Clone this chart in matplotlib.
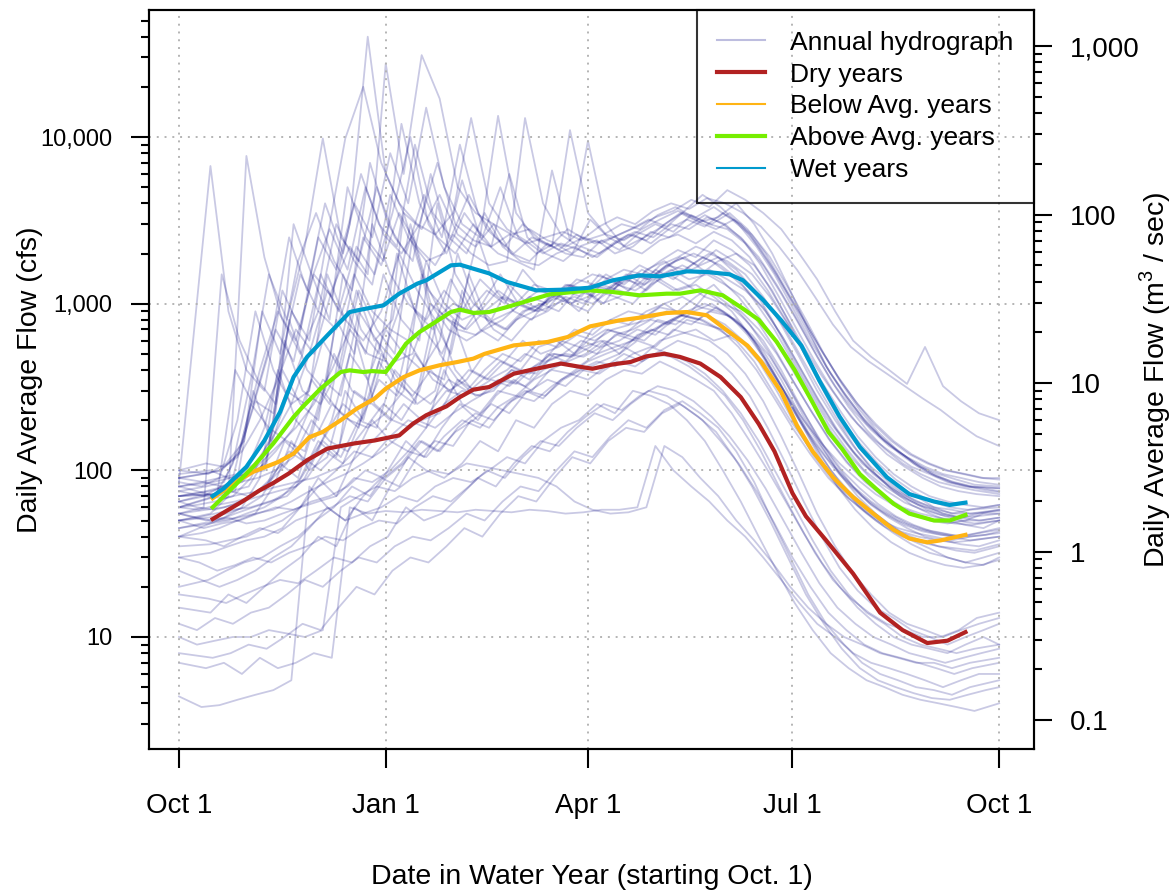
import numpy as np
import matplotlib
matplotlib.use("Agg")
import matplotlib.pyplot as plt
from matplotlib.lines import Line2D
from matplotlib.ticker import FixedLocator, FixedFormatter, NullFormatter

plt.rcParams['font.family'] = ['Liberation Sans', 'DejaVu Sans']
plt.rcParams['mathtext.fontset'] = 'custom'
plt.rcParams['mathtext.rm'] = 'Liberation Sans'

# ---- data (cfs), days counted from Oct 1 ----
tick_days = [0, 92, 182, 273, 365]
tick_names = ['Oct 1', 'Jan 1', 'Apr 1', 'Jul 1', 'Oct 1']

# annual hydrographs, sampled every 8 days (grid offset per trace)
wet_offsets = [4, 6, 0, 2, 4, 6, 2, 1, 3, 5, 7, 3]
wet_years = [
    [75, 80, 85, 150, 400, 900, 600, 1500, 1100, 3000, 40000, 6000, 3500, 2800, 4500, 2600, 2200, 3000, 2000, 1800, 2300, 2000, 1900, 2400, 2100, 2600, 3000, 2700, 3400, 3000, 2800, 2300, 1700, 1150, 750, 480, 320, 230, 175, 140, 120, 105, 95, 90, 85, 82],
    [85, 6700, 900, 400, 300, 1200, 700, 2500, 1600, 4000, 2500, 8000, 4000, 15000, 5000, 3000, 2500, 13400, 3500, 2500, 2200, 11000, 3500, 2600, 2400, 2800, 3200, 3600, 3300, 3800, 3200, 2600, 1800, 1200, 800, 520, 350, 250, 190, 150, 125, 110, 100, 95, 90, 90],
    [60, 65, 70, 110, 350, 1500, 800, 2200, 9800, 2500, 1800, 5000, 2500, 1800, 6000, 2500, 2000, 3500, 2200, 1800, 1700, 2000, 2200, 1900, 2200, 2600, 2400, 3000, 3500, 3100, 3300, 4000, 3000, 2000, 1200, 700, 420, 290, 210, 160, 130, 110, 95, 85, 80, 78],
    [90, 95, 100, 120, 260, 220, 900, 600, 2500, 9800, 20000, 7000, 4000, 3000, 2600, 3500, 13000, 4000, 2800, 2400, 2000, 2300, 2100, 1900, 2300, 2600, 2300, 2800, 3200, 2900, 3500, 3000, 2200, 1500, 950, 600, 380, 260, 190, 150, 125, 105, 95, 88, 82, 80],
    [100, 110, 105, 130, 200, 350, 700, 500, 1200, 2200, 1500, 27600, 6000, 31000, 17000, 5000, 3500, 3000, 2600, 2800, 2400, 2200, 2500, 2300, 2600, 2900, 3300, 3600, 4200, 3800, 4800, 4200, 3500, 2800, 2000, 1400, 900, 600, 480, 400, 330, 550, 320, 260, 220, 200],
    [70, 75, 80, 100, 180, 500, 1500, 900, 3000, 1800, 1300, 4500, 2500, 1800, 2000, 5500, 2500, 2000, 1800, 1600, 6300, 2400, 9500, 3000, 2200, 2000, 2400, 2600, 2300, 2700, 2400, 1900, 1300, 850, 550, 370, 260, 190, 150, 125, 105, 95, 85, 80, 78, 75],
    [80, 85, 90, 95, 110, 160, 250, 500, 1200, 800, 2500, 1700, 3500, 2200, 1700, 2600, 2000, 1700, 1800, 13000, 4000, 2600, 2200, 2400, 2000, 2200, 2700, 2500, 2900, 3400, 3000, 2500, 1900, 1300, 850, 540, 350, 240, 175, 135, 110, 95, 85, 80, 76, 72],
    [65, 70, 72, 400, 250, 600, 2500, 1200, 4000, 2000, 6000, 3000, 2200, 9000, 3500, 2500, 4500, 2800, 2200, 3000, 2400, 2100, 2600, 2300, 2500, 2800, 3200, 2900, 3600, 4500, 3800, 3000, 2200, 1500, 950, 600, 400, 280, 200, 155, 125, 105, 92, 85, 80, 78],
    [55, 60, 1500, 600, 350, 250, 3000, 1500, 800, 5000, 2500, 1800, 12000, 4000, 2500, 2000, 3000, 2200, 6000, 2500, 2000, 1800, 2200, 2000, 2400, 2700, 2500, 3000, 2800, 3300, 3000, 2400, 1700, 1100, 700, 450, 300, 210, 160, 125, 105, 90, 80, 75, 72, 70],
    [100, 95, 110, 150, 900, 500, 1800, 3500, 1800, 1200, 7000, 3000, 2000, 4500, 2500, 9000, 3500, 2500, 2000, 2500, 2200, 2800, 2400, 2600, 3000, 2800, 3400, 3800, 3300, 3000, 3500, 2800, 2000, 1300, 850, 550, 370, 260, 190, 150, 125, 110, 100, 95, 90, 88],
    [70, 72, 75, 80, 120, 250, 500, 1500, 900, 2200, 1500, 3500, 10000, 3000, 2000, 3500, 2500, 5000, 2500, 2000, 2300, 2000, 3200, 2500, 2200, 2500, 2900, 3500, 3100, 2800, 3200, 2600, 1900, 1250, 800, 500, 330, 230, 170, 135, 110, 95, 85, 80, 76, 74],
    [90, 95, 100, 130, 300, 700, 450, 1400, 2800, 1600, 5000, 2600, 2000, 3000, 7000, 3000, 2400, 2200, 2600, 2300, 2500, 2700, 2400, 2900, 3300, 3000, 3600, 4000, 3700, 4300, 4000, 3500, 2900, 2200, 1600, 1100, 750, 550, 450, 380, 320, 270, 230, 190, 160, 140],
]
above_offsets = [0, 6, 4, 6, 2, 0, 4, 6, 1, 3, 5, 7, 1]
above_years = [
    [60, 62, 65, 70, 90, 150, 300, 250, 600, 400, 1200, 700, 500, 2500, 1000, 800, 700, 900, 1100, 1000, 1200, 1100, 1300, 1500, 1400, 1200, 1600, 1800, 1500, 1700, 1900, 1600, 1200, 800, 500, 320, 210, 150, 110, 90, 75, 65, 60, 55, 58, 60],
    [50, 55, 70, 7700, 1900, 800, 500, 900, 700, 1500, 900, 700, 600, 1800, 1000, 800, 900, 1200, 1000, 900, 1100, 1300, 1200, 1500, 1300, 1600, 1400, 1200, 1300, 1100, 900, 650, 430, 290, 200, 145, 110, 88, 72, 62, 55, 50, 48, 50, 55, 55],
    [70, 75, 80, 85, 110, 140, 180, 250, 400, 700, 500, 450, 3500, 1500, 900, 700, 650, 800, 900, 1100, 1000, 1300, 1200, 1000, 1100, 1300, 1600, 1400, 1700, 2000, 1800, 1500, 1100, 750, 480, 300, 200, 140, 105, 85, 70, 62, 55, 52, 50, 52],
    [45, 48, 50, 55, 60, 70, 90, 150, 120, 300, 250, 200, 600, 400, 350, 1200, 700, 600, 800, 900, 1100, 1000, 900, 1200, 1400, 1300, 1700, 1900, 2200, 2000, 1600, 1300, 1000, 700, 450, 290, 190, 130, 95, 75, 62, 55, 50, 47, 45, 50],
    [85, 80, 90, 200, 900, 400, 250, 300, 1500, 800, 600, 900, 2000, 1200, 800, 1000, 900, 800, 700, 900, 1000, 1100, 900, 1200, 1100, 1000, 1300, 1500, 1300, 1100, 1000, 900, 700, 500, 330, 220, 150, 110, 85, 70, 60, 55, 52, 50, 48, 50],
    [65, 60, 58, 62, 70, 85, 110, 200, 350, 280, 900, 600, 450, 500, 1000, 700, 600, 700, 800, 1000, 900, 1000, 1100, 1000, 1200, 1400, 1200, 1500, 1700, 1500, 1800, 2000, 1700, 1200, 750, 450, 280, 180, 130, 100, 80, 70, 60, 58, 55, 58],
    [55, 58, 60, 65, 70, 75, 80, 120, 200, 500, 350, 700, 500, 400, 600, 2000, 1000, 700, 600, 800, 900, 1100, 1000, 1300, 1200, 1100, 1400, 1200, 1300, 1600, 1400, 1200, 950, 650, 420, 270, 180, 130, 100, 80, 68, 60, 55, 52, 55, 58],
    [95, 100, 90, 95, 100, 400, 250, 200, 800, 500, 3000, 1500, 1000, 800, 1200, 900, 1400, 1100, 1000, 1300, 1200, 1000, 1100, 1400, 1600, 1500, 1800, 2100, 1900, 2400, 2100, 1700, 1200, 800, 520, 340, 230, 160, 120, 95, 80, 70, 65, 62, 60, 62],
    [60, 65, 70, 75, 300, 150, 800, 400, 300, 1500, 700, 500, 2000, 900, 700, 1400, 900, 1200, 1000, 1600, 1200, 1100, 1400, 1300, 1200, 1500, 1400, 1700, 1600, 1900, 1700, 1400, 1000, 700, 450, 290, 190, 135, 100, 82, 70, 62, 58, 55, 55, 57],
    [75, 70, 80, 90, 100, 130, 180, 350, 250, 900, 500, 1500, 800, 600, 4000, 1500, 1000, 800, 1300, 1000, 900, 1200, 1100, 1500, 1300, 1200, 1400, 1600, 1400, 1500, 1300, 1100, 800, 550, 360, 240, 165, 120, 92, 75, 64, 58, 54, 52, 53, 55],
    [50, 52, 55, 60, 70, 110, 90, 200, 500, 300, 250, 600, 1200, 700, 500, 900, 2500, 1200, 900, 800, 1100, 1300, 1200, 1000, 1400, 1700, 1500, 1800, 2000, 1800, 1500, 1200, 900, 620, 400, 260, 175, 125, 95, 78, 66, 58, 53, 50, 50, 52],
    [80, 85, 90, 95, 110, 600, 300, 250, 400, 1200, 600, 800, 3000, 1200, 900, 700, 1000, 1500, 1000, 900, 1200, 1000, 1300, 1200, 1500, 1300, 1600, 1900, 1700, 2100, 1800, 1500, 1100, 750, 480, 310, 200, 145, 110, 88, 74, 65, 60, 58, 60, 62],
    [40, 45, 50, 55, 60, 65, 75, 90, 130, 110, 200, 450, 300, 250, 800, 500, 1500, 800, 700, 900, 1000, 900, 1200, 1100, 1300, 1500, 1400, 1700, 1900, 1600, 1400, 1100, 800, 540, 350, 230, 155, 112, 86, 70, 60, 54, 50, 48, 47, 50],
]
below_offsets = [0, 2, 4, 6, 0, 2, 4, 6, 1, 3, 5, 7]
below_years = [
    [50, 52, 55, 58, 60, 65, 70, 90, 150, 120, 200, 180, 400, 300, 250, 350, 300, 400, 500, 450, 600, 550, 700, 650, 800, 900, 850, 1000, 1100, 950, 900, 800, 600, 400, 260, 170, 120, 90, 70, 58, 50, 45, 42, 40, 38, 40],
    [40, 42, 45, 50, 55, 80, 150, 100, 120, 300, 200, 500, 350, 250, 300, 800, 400, 350, 400, 500, 450, 600, 550, 500, 650, 700, 800, 750, 900, 1000, 900, 750, 550, 360, 230, 150, 100, 75, 60, 50, 42, 38, 35, 33, 32, 35],
    [65, 70, 68, 72, 75, 80, 85, 90, 100, 110, 140, 180, 250, 200, 220, 350, 280, 300, 400, 380, 450, 500, 480, 550, 600, 700, 650, 800, 900, 1200, 1000, 800, 600, 400, 250, 160, 110, 80, 62, 52, 45, 40, 38, 36, 35, 38],
    [30, 32, 35, 38, 40, 45, 60, 90, 70, 120, 200, 150, 130, 180, 400, 250, 220, 300, 280, 350, 400, 380, 450, 500, 550, 480, 600, 650, 700, 600, 650, 550, 420, 280, 180, 120, 85, 62, 50, 42, 36, 32, 30, 28, 30, 32],
    [80, 75, 70, 90, 250, 180, 150, 130, 300, 220, 180, 600, 350, 280, 400, 300, 350, 500, 450, 400, 550, 600, 500, 700, 800, 750, 900, 1000, 850, 800, 700, 600, 450, 300, 200, 140, 100, 75, 60, 50, 45, 42, 40, 38, 40, 42],
    [45, 48, 50, 52, 55, 58, 65, 75, 85, 95, 110, 130, 160, 200, 180, 220, 260, 300, 350, 320, 400, 450, 420, 500, 550, 600, 700, 650, 800, 750, 700, 600, 450, 300, 190, 125, 90, 68, 55, 46, 40, 37, 35, 34, 33, 36],
    [55, 50, 52, 60, 90, 400, 200, 150, 250, 200, 180, 220, 300, 1500, 500, 350, 300, 320, 400, 350, 500, 450, 550, 600, 500, 650, 700, 800, 750, 900, 850, 700, 520, 350, 220, 150, 105, 80, 65, 55, 48, 44, 42, 40, 42, 44],
    [35, 36, 38, 40, 45, 50, 60, 80, 100, 130, 120, 160, 200, 180, 250, 300, 280, 350, 330, 420, 500, 480, 600, 700, 650, 800, 950, 900, 1100, 1300, 1000, 750, 520, 340, 210, 140, 95, 70, 55, 45, 38, 34, 30, 28, 27, 30],
    [60, 58, 62, 65, 70, 90, 130, 110, 160, 250, 200, 350, 280, 500, 350, 300, 400, 350, 450, 600, 500, 550, 650, 600, 700, 750, 800, 900, 850, 800, 700, 550, 400, 270, 180, 125, 90, 70, 57, 48, 43, 40, 38, 37, 38, 40],
    [90, 85, 80, 85, 90, 100, 120, 200, 150, 130, 180, 250, 200, 300, 800, 400, 300, 350, 320, 400, 450, 500, 600, 550, 650, 600, 700, 800, 900, 850, 750, 600, 450, 310, 210, 145, 105, 80, 64, 54, 47, 43, 41, 40, 42, 45],
    [20, 22, 25, 28, 30, 35, 40, 50, 60, 80, 70, 100, 150, 120, 180, 250, 200, 280, 350, 300, 400, 450, 500, 600, 550, 650, 800, 750, 900, 1000, 850, 650, 460, 300, 190, 120, 80, 58, 45, 37, 32, 29, 27, 26, 27, 29],
    [70, 72, 75, 70, 80, 150, 120, 100, 130, 600, 250, 200, 180, 220, 300, 280, 350, 450, 400, 380, 500, 480, 550, 700, 650, 600, 750, 850, 800, 950, 800, 650, 480, 320, 210, 140, 100, 78, 63, 53, 47, 43, 41, 40, 41, 43],
]
dry_offsets = [2, 4, 0, 6, 2, 4, 6, 0, 1, 3, 5, 7]
dry_years = [
    [4.4, 3.8, 3.9, 4.2, 4.5, 4.8, 5.5, 80, 60, 50, 55, 60, 70, 65, 80, 90, 85, 100, 120, 110, 150, 180, 200, 250, 220, 300, 280, 250, 200, 150, 100, 65, 40, 25, 16, 11, 8, 6.5, 5.5, 5, 4.5, 4.2, 4, 3.8, 3.6, 4],
    [7, 6.5, 7, 6, 7.5, 6.5, 7, 8, 7.5, 60, 55, 57, 56, 58, 57, 56, 58, 57, 56, 58, 57, 55, 56, 58, 58, 60, 140, 100, 80, 65, 50, 40, 30, 22, 16, 12, 10, 8, 7, 6.5, 6, 5.5, 5, 5.5, 6, 6],
    [10, 9, 9.5, 10, 10, 11, 10.5, 10, 11, 60, 70, 80, 75, 90, 100, 95, 110, 105, 100, 95, 90, 80, 65, 58, 55, 56, 60, 140, 120, 90, 70, 50, 38, 28, 20, 15, 12, 10, 9, 8, 7.5, 7, 7, 6.5, 7, 7.5],
    [15, 14, 18, 16, 20, 25, 30, 40, 35, 60, 50, 80, 120, 100, 90, 110, 150, 130, 200, 180, 250, 300, 280, 350, 400, 380, 450, 400, 350, 300, 220, 150, 100, 65, 42, 28, 20, 15, 12, 10, 9, 8.5, 8, 9, 10, 9],
    [25, 22, 20, 22, 25, 30, 35, 45, 60, 50, 70, 90, 80, 120, 150, 140, 200, 180, 250, 300, 270, 350, 400, 450, 420, 500, 550, 500, 450, 380, 300, 220, 150, 95, 60, 38, 25, 18, 14, 12, 10, 9, 8.5, 8, 8.5, 9],
    [40, 38, 35, 40, 45, 42, 50, 55, 60, 70, 65, 90, 110, 150, 130, 180, 220, 200, 260, 300, 350, 320, 400, 450, 500, 600, 550, 700, 650, 600, 500, 380, 260, 160, 95, 55, 35, 24, 18, 14, 12, 11, 10, 11, 12, 13],
    [55, 50, 52, 48, 50, 55, 60, 65, 70, 90, 85, 100, 130, 120, 160, 200, 180, 240, 280, 260, 320, 380, 350, 420, 500, 450, 520, 600, 550, 480, 380, 280, 180, 110, 65, 40, 26, 19, 15, 13, 11, 10, 9, 10, 11, 12],
    [12, 11, 13, 12, 14, 15, 18, 22, 20, 25, 30, 28, 35, 40, 38, 45, 55, 50, 65, 80, 75, 100, 130, 120, 160, 200, 180, 230, 260, 220, 180, 130, 85, 50, 30, 18, 12, 9, 7, 6, 5.5, 5, 4.8, 4.5, 5, 5.5],
    [30, 28, 25, 27, 30, 28, 32, 35, 40, 38, 45, 50, 48, 60, 70, 65, 80, 100, 90, 120, 150, 140, 180, 220, 200, 250, 300, 280, 240, 200, 150, 110, 75, 48, 30, 20, 14, 11, 9, 8, 7.5, 7, 6.5, 6, 6.5, 7],
    [50, 45, 48, 50, 55, 60, 58, 65, 70, 80, 100, 90, 110, 150, 130, 170, 200, 250, 220, 300, 280, 350, 400, 380, 450, 420, 500, 480, 420, 350, 280, 200, 130, 80, 50, 32, 22, 17, 14, 12, 11, 10, 10, 11, 13, 14],
    [18, 17, 16, 18, 20, 22, 21, 25, 30, 28, 35, 40, 60, 50, 55, 70, 90, 80, 110, 140, 130, 170, 210, 250, 230, 280, 320, 300, 260, 210, 160, 115, 78, 50, 32, 21, 15, 12, 10, 9, 8, 7.5, 7, 7.5, 8, 8.5],
    [8, 7.5, 8, 9, 8.5, 10, 12, 11, 15, 20, 18, 25, 30, 28, 35, 45, 40, 55, 70, 65, 90, 120, 110, 150, 180, 170, 220, 250, 210, 170, 120, 80, 50, 30, 18, 12, 8.5, 6.5, 5.5, 5, 4.6, 4.3, 4.2, 4.5, 4.8, 5],
]

# smoothed class averages
wet_days = [15, 20, 30, 38, 45, 51, 57, 66, 76, 81, 91, 98, 106, 110, 121, 125, 131, 138, 146, 159, 171, 183, 193, 205, 214, 226, 235, 245, 251, 260, 268, 277, 285, 294, 303, 315, 325, 336, 343, 350]
wet_avg = [70, 78, 105, 151, 224, 363, 479, 645, 891, 921, 977, 1148, 1318, 1380, 1698, 1714, 1621, 1520, 1349, 1202, 1213, 1247, 1380, 1479, 1459, 1563, 1549, 1500, 1380, 1050, 794, 560, 345, 210, 138, 91, 72, 65, 62, 64]
above_days = [15, 24, 33, 42, 51, 55, 63, 72, 76, 82, 86, 92, 97, 101, 107, 113, 121, 125, 131, 138, 146, 156, 165, 183, 193, 205, 217, 223, 232, 242, 251, 258, 266, 274, 282, 289, 295, 303, 310, 318, 325, 336, 343, 350]
above_avg = [60, 79, 105, 145, 209, 240, 309, 389, 398, 389, 394, 389, 479, 575, 676, 759, 891, 921, 880, 891, 955, 1047, 1138, 1202, 1175, 1122, 1148, 1148, 1202, 1122, 933, 800, 590, 400, 255, 170, 135, 95, 78, 63, 55, 50, 50, 54]
below_days = [15, 24, 33, 44, 51, 58, 64, 72, 79, 87, 92, 100, 107, 116, 124, 131, 136, 149, 164, 173, 183, 196, 205, 217, 226, 235, 244, 253, 259, 268, 275, 282, 291, 300, 309, 318, 325, 333, 339, 350]
below_avg = [68, 83, 98, 112, 126, 158, 170, 200, 234, 269, 309, 363, 398, 427, 447, 468, 500, 562, 589, 631, 731, 794, 824, 879, 891, 851, 690, 560, 450, 295, 186, 130, 91, 69, 55, 44, 39, 37, 38, 41]
dry_days = [15, 29, 36, 42, 49, 57, 66, 78, 87, 94, 98, 104, 110, 119, 125, 131, 138, 149, 159, 170, 177, 184, 193, 201, 208, 216, 223, 232, 241, 250, 258, 265, 273, 279, 288, 300, 312, 322, 333, 342, 350]
dry_avg = [51, 66, 76, 84, 96, 115, 135, 145, 151, 158, 162, 190, 214, 242, 275, 305, 316, 380, 407, 437, 421, 407, 432, 447, 483, 501, 479, 437, 363, 275, 190, 130, 73, 53, 38, 24, 14, 11, 9.2, 9.5, 10.7]


def sample_days(off):
    return np.r_[0, off + 8 * np.arange(1, 45), 365]


fig = plt.figure(figsize=(11.75, 8.94), dpi=100)
ax = fig.add_axes([0.1268, 0.1622, 0.7532, 0.8266])

hydro_col = (0.0, 0.0, 0.5, 0.21)
for offs, years in [(wet_offsets, wet_years), (above_offsets, above_years),
                    (below_offsets, below_years), (dry_offsets, dry_years)]:
    for off, q in zip(offs, years):
        ax.plot(sample_days(off), q, color=hydro_col, lw=1.3, zorder=1)

# grid
for d in tick_days:
    ax.axvline(d, color='#b4b4b4', lw=1.4, ls=(0, (1, 3)), zorder=1.5)
for v in [10, 100, 1000, 10000]:
    ax.axhline(v, color='#b4b4b4', lw=1.4, ls=(0, (1, 3)), zorder=1.5)

c_dry, c_below, c_above, c_wet = '#B22222', '#FFB414', '#76EE00', '#009ACD'
ax.plot(dry_days, dry_avg, color=c_dry, lw=3, zorder=3)
ax.plot(below_days, below_avg, color=c_below, lw=3, zorder=3)
ax.plot(above_days, above_avg, color=c_above, lw=3, zorder=3)
ax.plot(wet_days, wet_avg, color=c_wet, lw=3, zorder=3)

ax.set_yscale('log')
ylo, yhi = 2.128, 57810
ax.set_ylim(ylo, yhi)
ax.set_xlim(-13.35, 380.5)

# left axis ticks
ax.yaxis.set_major_locator(FixedLocator([10, 100, 1000, 10000]))
ax.yaxis.set_major_formatter(FixedFormatter(['10', '100', '1,000', '10,000']))
lminor = [m * 10 ** e for e in range(0, 5) for m in range(2, 10)]
ax.yaxis.set_minor_locator(FixedLocator([v for v in lminor if ylo < v < yhi and v not in (10, 100, 1000, 10000)]))
ax.yaxis.set_minor_formatter(NullFormatter())
ax.tick_params(axis='y', which='major', length=13, width=1.5, pad=13.5, labelsize=17)
ax.tick_params(axis='y', which='minor', length=6, width=1.5)

ax.xaxis.set_major_locator(FixedLocator(tick_days))
ax.xaxis.set_major_formatter(FixedFormatter(tick_names))
ax.tick_params(axis='x', length=14, width=1.5, pad=18, labelsize=20)

for s in ax.spines.values():
    s.set_linewidth(1.5)

# right axis in m3/s
ax2 = ax.twinx()
ax2.set_yscale('log')
ax2.set_ylim(0.0673, 1636)
ax2.yaxis.set_major_locator(FixedLocator([0.1, 1, 10, 100, 1000]))
ax2.yaxis.set_major_formatter(FixedFormatter(['0.1', '1', '10', '100', '1,000']))
rminor = [m * 10.0 ** e for e in range(-1, 3) for m in range(2, 10)]
ax2.yaxis.set_minor_locator(FixedLocator(rminor))
ax2.yaxis.set_minor_formatter(NullFormatter())
ax2.tick_params(axis='y', which='major', length=13, width=1.5, pad=13, labelsize=20)
ax2.tick_params(axis='y', which='minor', length=6, width=1.5)
for s in ax2.spines.values():
    s.set_linewidth(1.5)

ax.set_ylabel('Daily Average Flow (cfs)', fontsize=20.5, va='center')
ax.yaxis.set_label_coords(-0.1345, 0.5)
ax2.set_ylabel('Daily Average Flow (m$^3$ / sec)', fontsize=20.5, va='center')
ax2.yaxis.set_label_coords(1.1367, 0.5)
ax.set_xlabel('Date in Water Year (starting Oct. 1)', fontsize=20.5, va='center')
ax.xaxis.set_label_coords(0.5, -0.1732)

handles = [
    Line2D([], [], color='#BDBDDF', lw=1.5),
    Line2D([], [], color=c_dry, lw=3),
    Line2D([], [], color=c_below, lw=1.5),
    Line2D([], [], color=c_above, lw=3),
    Line2D([], [], color=c_wet, lw=1.5),
]
labels = ['Annual hydrograph', 'Dry years', 'Below Avg. years', 'Above Avg. years', 'Wet years']
leg = ax2.legend(handles, labels, loc='upper right', bbox_to_anchor=(1, 1),
                 borderaxespad=0, fontsize=19, frameon=True, fancybox=False,
                 edgecolor='black', facecolor='none', handlelength=1.8,
                 handletextpad=0.95, labelspacing=0.3, borderpad=0.78)
leg.get_frame().set_linewidth(1.5)

plt.savefig('out.png', dpi=100)
